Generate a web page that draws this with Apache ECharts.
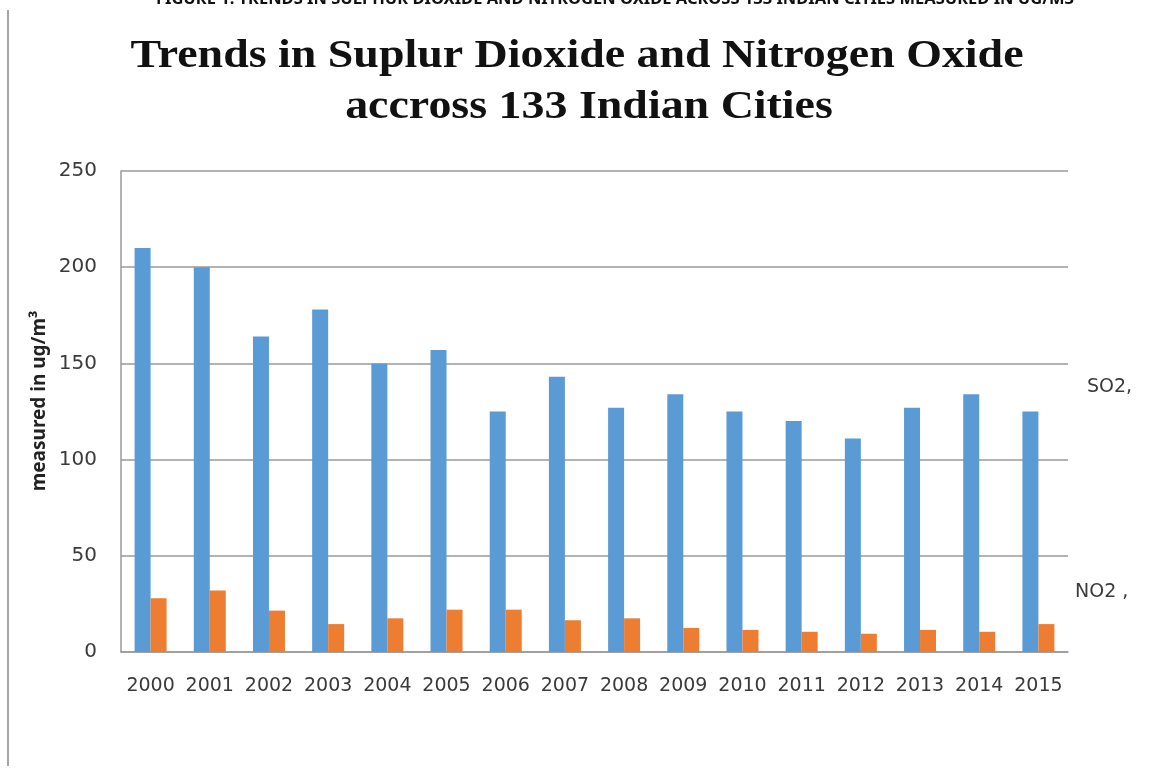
<!DOCTYPE html>
<html>
<head>
<meta charset="utf-8">
<title>Trends in SO2 and NO2</title>
<script src="https://cdn.jsdelivr.net/npm/echarts@6/dist/echarts.min.js"></script>
<style>
  html, body { margin: 0; padding: 0; background: #fff; }
  #chart { width: 1158px; height: 778px; }
</style>
</head>
<body>
<div id="chart"></div>
<script>
// data
const years = ['2000', '2001', '2002', '2003', '2004', '2005', '2006', '2007',
  '2008', '2009', '2010', '2011', '2012', '2013', '2014', '2015']
const so2 = [210, 200, 164, 178, 150, 157, 125, 143, 127, 134, 125, 120, 111, 127, 134, 125]
const no2 = [28, 32, 21.5, 14.5, 17.5, 22, 22, 16.5, 17.5, 12.5, 11.5, 10.5, 9.5, 11.5, 10.5, 14.5]
const yTicks = [0, 50, 100, 150, 200, 250]

const gridColor = '#9a9a9a'
const textColor = '#3a3a3a'
const tickFont = 'DejaVu Sans'

const chart = echarts.init(document.getElementById('chart'))

chart.setOption({
  backgroundColor: '#fff',
  animation: false,
  grid: { left: 121, right: 90, top: 171, bottom: 126 },
  xAxis: {
    type: 'category',
    data: years,
    axisLine: { lineStyle: { color: gridColor, width: 1.5 } },
    axisTick: { show: false },
    axisLabel: {
      color: textColor,
      fontFamily: tickFont,
      fontSize: 19,
      margin: 25,
      interval: 0
    }
  },
  yAxis: {
    type: 'value',
    min: yTicks[0],
    max: yTicks[yTicks.length - 1],
    interval: 50,
    axisLine: { show: true, lineStyle: { color: gridColor, width: 1.5 } },
    axisTick: { show: false },
    axisLabel: {
      color: textColor,
      fontFamily: tickFont,
      fontSize: 20,
      margin: 24
    },
    splitLine: { lineStyle: { color: gridColor, width: 1.5 } }
  },
  series: [
    {
      name: 'SO2',
      type: 'bar',
      data: so2,
      barWidth: 16,
      barGap: '0%',
      itemStyle: { color: '#5B9BD5' }
    },
    {
      name: 'NO2',
      type: 'bar',
      data: no2,
      barWidth: 16,
      itemStyle: { color: '#ED7D31' }
    }
  ],
  graphic: [
    // figure caption, clipped by the top edge
    {
      type: 'text',
      x: 615,
      y: -1,
      style: {
        text: 'FIGURE 1: TRENDS IN SULPHUR DIOXIDE AND NITROGEN OXIDE ACROSS 133 INDIAN CITIES MEASURED IN UG/M3',
        fill: '#111',
        font: 'bold 16.5px "Noto Sans"',
        align: 'center',
        verticalAlign: 'middle'
      }
    },
    // left page border
    {
      type: 'line',
      shape: { x1: 8, y1: 10, x2: 8, y2: 766 },
      style: { stroke: '#8a8a8a', lineWidth: 1.5 }
    },
    {
      type: 'text',
      x: 577,
      y: 56,
      scaleX: 1.12,
      style: {
        text: 'Trends in Suplur Dioxide and Nitrogen Oxide',
        fill: '#111',
        font: 'bold 41px "Liberation Serif"',
        align: 'center',
        verticalAlign: 'middle'
      }
    },
    {
      type: 'text',
      x: 589,
      y: 107,
      scaleX: 1.12,
      style: {
        text: 'accross 133 Indian Cities',
        fill: '#111',
        font: 'bold 41px "Liberation Serif"',
        align: 'center',
        verticalAlign: 'middle'
      }
    },
    // y axis title
    {
      type: 'text',
      x: 40,
      y: 401,
      rotation: Math.PI / 2,
      style: {
        text: 'measured in ug/m³',
        fill: '#222',
        font: 'bold 19px "Noto Sans"',
        align: 'center',
        verticalAlign: 'middle'
      }
    },
    {
      type: 'text',
      x: 1087,
      y: 387,
      style: {
        text: 'SO2,',
        fill: textColor,
        font: '19px "DejaVu Sans"',
        verticalAlign: 'middle'
      }
    },
    {
      type: 'text',
      x: 1075,
      y: 592,
      style: {
        text: 'NO2 ,',
        fill: textColor,
        font: '19px "DejaVu Sans"',
        verticalAlign: 'middle'
      }
    }
  ]
})
</script>
</body>
</html>
